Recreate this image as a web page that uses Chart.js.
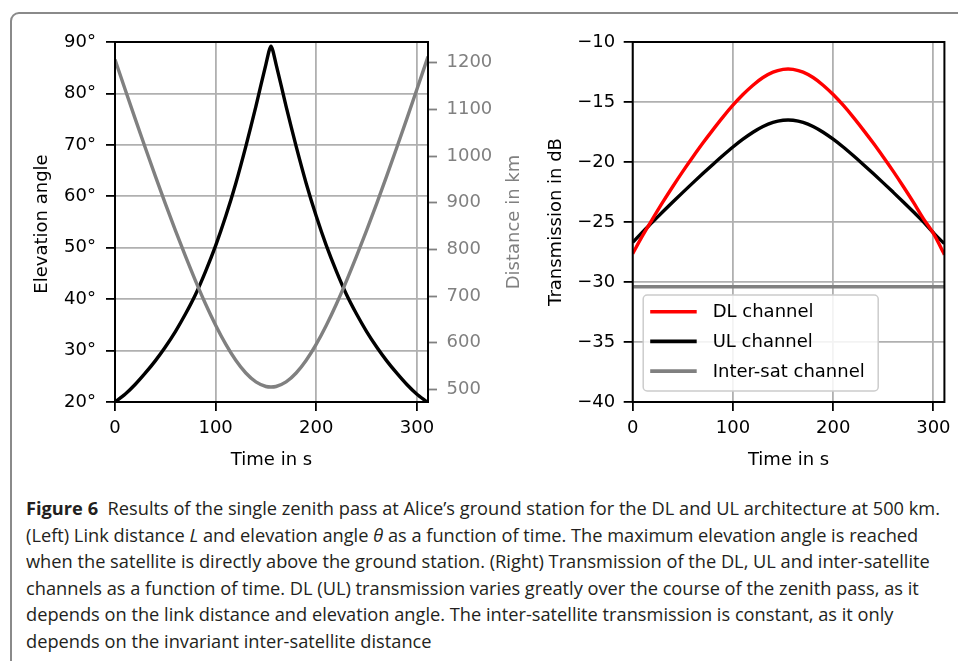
<!DOCTYPE html>
<html>
<head>
<meta charset="utf-8">
<script src="https://cdn.jsdelivr.net/npm/chart.js@4/dist/chart.umd.min.js"></script>
<style>
  html, body { margin: 0; padding: 0; background: #fff; overflow: hidden; }
  body { width: 958px; height: 661px; position: relative; }
  #frame { position: absolute; left: 10px; top: 12px; width: 1000px; height: 700px;
           border: 2px solid #8a8a8a; border-radius: 9px; box-sizing: border-box; }
  #left { position: absolute; left: 0; top: 0; }
  #right { position: absolute; left: 530px; top: 0; }
  #cap { position: absolute; left: 26px; top: 495px; font-family: "Open Sans", sans-serif;
         font-size: 18px; line-height: 26.6px; color: #231f20; transform-origin: 0 0; }
  #cap .ln { white-space: nowrap; }
  #cap .ln span { display: inline-block; }
  #cap b { font-weight: 700; }
</style>
</head>
<body>
<div id="frame"></div>
<canvas id="left" width="540" height="480"></canvas>
<canvas id="right" width="428" height="480"></canvas>
<div id="cap">
  <div class="ln"><span id="firstLine"><b>Figure 6</b>&nbsp; Results of the single zenith pass at Alice’s ground station for the DL and UL architecture at 500 km.</span></div>
  <div class="ln"><span>(Left) Link distance <i>L</i> and elevation angle <i>θ</i> as a function of time. The maximum elevation angle is reached</span></div>
  <div class="ln"><span>when the satellite is directly above the ground station. (Right) Transmission of the DL, UL and inter-satellite</span></div>
  <div class="ln"><span>channels as a function of time. DL (UL) transmission varies greatly over the course of the zenith pass, as it</span></div>
  <div class="ln"><span>depends on the link distance and elevation angle. The inter-satellite transmission is constant, as it only</span></div>
  <div class="ln"><span>depends on the invariant inter-satellite distance</span></div>
</div>
<script>
// data (time in s)
const timeS = [0, 10, 20, 30, 40, 50, 60, 70, 80, 90, 100, 110, 120, 130, 140, 150, 155,
  160, 170, 180, 190, 200, 210, 220, 230, 240, 250, 260, 270, 280, 290, 300, 310, 311];
const elevationDeg = [20.0, 21.5, 23.4, 25.6, 28.0, 30.7, 33.7, 37.1, 40.9, 45.4, 50.4, 56.1, 62.5, 69.7, 77.5, 85.7, 89.2,
  85.7, 77.5, 69.7, 62.5, 56.1, 50.4, 45.4, 40.9, 37.1, 33.7, 30.7, 28.0, 25.6, 23.4, 21.5, 20.0, 19.8];
const distanceKm = [1206.8, 1143.1, 1080.2, 1018.3, 957.6, 898.3, 840.8, 785.4, 732.7, 683.1, 637.6, 597.1, 562.5, 535.1, 516.0, 506.2, 505.0,
  506.2, 516.0, 535.1, 562.5, 597.1, 637.6, 683.1, 732.7, 785.4, 840.8, 898.3, 957.6, 1018.3, 1080.2, 1143.1, 1206.8, 1213.1];
const dlChannel = [-27.63, -26.12, -24.72, -23.35, -22.04, -20.78, -19.58, -18.42, -17.32, -16.26, -15.27, -14.38, -13.60, -12.96, -12.51, -12.28, -12.25,
  -12.28, -12.51, -12.96, -13.60, -14.38, -15.27, -16.26, -17.32, -18.42, -19.58, -20.78, -22.04, -23.35, -24.72, -25.95, -27.55, -27.72];
const ulChannel = [-26.70, -25.82, -24.99, -24.15, -23.33, -22.53, -21.74, -20.96, -20.20, -19.46, -18.75, -18.10, -17.52, -17.04, -16.70, -16.52, -16.50,
  -16.52, -16.70, -17.04, -17.52, -18.10, -18.75, -19.46, -20.20, -20.96, -21.74, -22.53, -23.33, -24.15, -24.99, -25.90, -26.72, -26.78];
const interTime = [0, 311];
const interSatChannel = [-30.4, -30.4];

const timeTicks = [0, 100, 200, 300];
const elevTicks = [20, 30, 40, 50, 60, 70, 80, 90];
const distTicks = [500, 600, 700, 800, 900, 1000, 1100, 1200];
const dbTicks = [-40, -35, -30, -25, -20, -15, -10];

const FONT = "'DejaVu Sans', sans-serif";
const GRID = '#b0b0b0';
const GREY = '#808080';

function pts(xs, ys) { return xs.map((x, i) => ({ x: x, y: ys[i] })); }
function fixTicks(list) { return scale => { scale.ticks = list.map(v => ({ value: v })); }; }
function minus(v) { return String(v).replace('-', '\u2212'); }

const framePlugin = {
  id: 'frame',
  afterDatasetsDraw(chart) {
    const a = chart.chartArea, ctx = chart.ctx;
    ctx.save();
    ctx.strokeStyle = '#000';
    ctx.lineWidth = 2;
    ctx.strokeRect(a.left, a.top, a.right - a.left, a.bottom - a.top);
    ctx.restore();
  }
};

function drawTitle(ctx, text, x, y, rot, color) {
  ctx.save();
  ctx.font = '18px ' + FONT;
  ctx.fillStyle = color || '#000';
  ctx.textAlign = 'center';
  ctx.textBaseline = 'alphabetic';
  ctx.translate(x, y);
  if (rot) ctx.rotate(-Math.PI / 2);
  ctx.fillText(text, 0, 0);
  ctx.restore();
}

function xScale() {
  return {
    type: 'linear', min: 0, max: 311,
    afterBuildTicks: fixTicks(timeTicks),
    afterFit: s => { s.height = 78; },
    ticks: { font: { family: FONT, size: 18 }, color: '#000', padding: 7, maxRotation: 0, autoSkip: false,
             callback: v => String(v) },
    grid: { color: GRID, lineWidth: 1.8, tickColor: '#000', tickWidth: 1.8, tickLength: 9 },
    border: { display: false }
  };
}

// left: elevation + distance
new Chart(document.getElementById('left'), {
  type: 'line',
  data: {
    datasets: [
      { label: 'Distance', data: pts(timeS, distanceKm), yAxisID: 'y1', borderColor: GREY, borderWidth: 3.4,
        pointRadius: 0, cubicInterpolationMode: 'monotone' },
      { label: 'Elevation', data: pts(timeS, elevationDeg), yAxisID: 'y', borderColor: '#000', borderWidth: 3.4,
        pointRadius: 0, tension: 0.25 }
    ]
  },
  options: {
    responsive: false, animation: false, devicePixelRatio: 1, events: [],
    layout: { padding: { top: 42, left: 0, right: 0, bottom: 0 } },
    plugins: { legend: { display: false }, tooltip: { enabled: false } },
    scales: {
      x: xScale(),
      y: {
        position: 'left', min: 20, max: 90,
        afterBuildTicks: fixTicks(elevTicks),
        afterFit: s => { s.width = 115; },
        ticks: { font: { family: FONT, size: 18 }, color: '#000', padding: 10, callback: v => v + '°' },
        grid: { color: GRID, lineWidth: 1.8, tickColor: '#000', tickWidth: 1.8, tickLength: 9 },
        border: { display: false }
      },
      y1: {
        position: 'right', min: 473, max: 1244.5,
        afterBuildTicks: fixTicks(distTicks),
        afterFit: s => { s.width = 112; },
        ticks: { font: { family: FONT, size: 18 }, color: GREY, padding: 9.5, callback: v => String(v) },
        grid: { drawOnChartArea: false, tickColor: GREY, tickWidth: 1.8, tickLength: 9 },
        border: { display: false }
      }
    }
  },
  plugins: [framePlugin, {
    id: 'titlesLeft',
    afterDraw(chart) {
      const a = chart.chartArea, ctx = chart.ctx, mid = (a.top + a.bottom) / 2;
      drawTitle(ctx, 'Elevation angle', a.left - 68, mid + 2, true);
      drawTitle(ctx, 'Distance in km', a.right + 90.5, mid, true, GREY);
      drawTitle(ctx, 'Time in s', (a.left + a.right) / 2, a.bottom + 63, false);
    }
  }]
});

// right: transmission
const legendPlugin = {
  id: 'boxLegend',
  afterDraw(chart) {
    const a = chart.chartArea, ctx = chart.ctx;
    const w = 235, h = 96, x = a.left + 10.5, y = a.bottom - 11 - h;
    ctx.save();
    ctx.fillStyle = 'rgba(255,255,255,0.85)';
    ctx.strokeStyle = '#cccccc';
    ctx.lineWidth = 1.5;
    ctx.beginPath();
    ctx.roundRect(x, y, w, h, 4);
    ctx.fill();
    ctx.stroke();
    ctx.font = '18px ' + FONT;
    ctx.textBaseline = 'middle';
    ctx.fillStyle = '#000';
    chart.data.datasets.forEach((ds, i) => {
      const ry = y + 16.7 + i * 29.7;
      ctx.strokeStyle = ds.borderColor;
      ctx.lineWidth = 3.6;
      ctx.beginPath();
      ctx.moveTo(x + 7, ry);
      ctx.lineTo(x + 53.5, ry);
      ctx.stroke();
      ctx.fillText(ds.label, x + 69.5, ry + 1);
    });
    ctx.restore();
  }
};

new Chart(document.getElementById('right'), {
  type: 'line',
  data: {
    datasets: [
      { label: 'DL channel', data: pts(timeS, dlChannel), borderColor: '#ff0000', borderWidth: 3.4,
        pointRadius: 0, cubicInterpolationMode: 'monotone' },
      { label: 'UL channel', data: pts(timeS, ulChannel), borderColor: '#000', borderWidth: 3.4,
        pointRadius: 0, cubicInterpolationMode: 'monotone' },
      { label: 'Inter-sat channel', data: pts(interTime, interSatChannel), borderColor: GREY, borderWidth: 3.4,
        pointRadius: 0 }
    ]
  },
  options: {
    responsive: false, animation: false, devicePixelRatio: 1, events: [],
    layout: { padding: { top: 42, left: 0, right: 12.3, bottom: 0 } },
    plugins: { legend: { display: false }, tooltip: { enabled: false } },
    scales: {
      x: xScale(),
      y: {
        position: 'left', min: -40, max: -10,
        afterBuildTicks: fixTicks(dbTicks),
        afterFit: s => { s.width = 102.7; },
        ticks: { font: { family: FONT, size: 18 }, color: '#000', padding: 8.5, callback: minus },
        grid: { color: GRID, lineWidth: 1.8, tickColor: '#000', tickWidth: 1.8, tickLength: 9 },
        border: { display: false }
      }
    }
  },
  plugins: [framePlugin, legendPlugin, {
    id: 'titlesRight',
    afterDraw(chart) {
      const a = chart.chartArea, ctx = chart.ctx;
      drawTitle(ctx, 'Transmission in dB', a.left - 72, (a.top + a.bottom) / 2, true);
      drawTitle(ctx, 'Time in s', (a.left + a.right) / 2, a.bottom + 63, false);
    }
  }]
});

// caption: squeeze to the width of the printed caption
const cap = document.getElementById('cap');
const w1 = document.getElementById('firstLine').getBoundingClientRect().width;
cap.style.transform = 'scaleX(' + (914 / w1) + ')';
</script>
</body>
</html>
